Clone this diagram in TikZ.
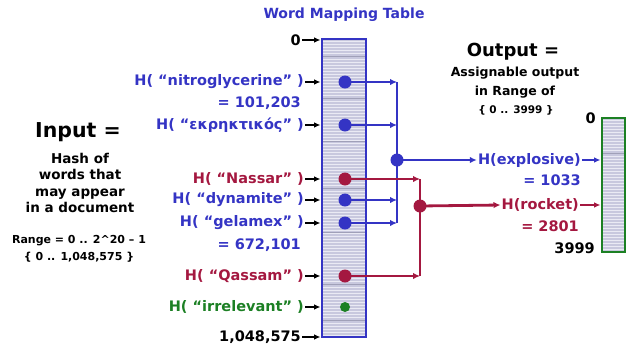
\documentclass[tikz,border=0pt]{standalone}
\usepackage{fontspec}
\setmainfont{DejaVu Sans}
\usetikzlibrary{arrows.meta}
\definecolor{tblue}{RGB}{52,52,196}
\definecolor{tred}{RGB}{164,24,64}
\definecolor{tgreen}{RGB}{28,128,36}
\definecolor{tfill}{RGB}{200,200,222}
\definecolor{tstripe}{RGB}{234,234,244}
\definecolor{tdark}{RGB}{160,160,184}
\begin{document}
\begin{tikzpicture}[x=1pt,y=-1pt,
  lbl/.style={font=\fontsize{14.5}{16}\selectfont\bfseries, inner sep=1pt},
  blk/.style={font=\fontsize{13.5}{16.5}\selectfont\bfseries, inner sep=0pt, align=center},
  pin/.style={black, line width=1.9pt, -{Latex[length=6.5pt,width=5.5pt]}},
  conn/.style={line width=2.8pt, -{Latex[length=7pt,width=6.5pt]}},
  wire/.style={line width=2.8pt},
  dot/.style={circle, inner sep=0pt, minimum size=13pt},
  tablebox/.style={line width=2.8pt, inner sep=0pt}]
\useasboundingbox (0,0) rectangle (629,346);

% ---- main table ----
\fill[tfill] (322,39) rectangle (366,337);
\foreach \yy in {41.5,44.5,...,336} \draw[tstripe, line width=0.9pt] (323,\yy) -- (365,\yy);
\foreach \yy in {56,98,141,188,232,284,320} \draw[tdark, line width=0.7pt] (323,\yy) -- (365,\yy);
\node[tablebox, draw=tblue, minimum width=44pt, minimum height=298pt] (tbl) at (344,188) {};

\node[font=\fontsize{14}{16}\selectfont\bfseries, text=tblue] (title) at (344,15) {Word Mapping Table};

% ---- output table ----
\fill[tfill] (602,118) rectangle (625,252);
\foreach \yy in {120.5,123.5,...,251} \draw[tstripe, line width=0.9pt] (603,\yy) -- (624,\yy);
\draw[tdark, line width=0.7pt] (603,153) -- (624,153);
\node[tablebox, draw=tgreen, minimum width=23pt, minimum height=134pt] (otbl) at (613.5,185) {};

% ---- input side labels ----
\node[lbl, anchor=east] (zero) at (302,40) {0};
\node[lbl, text=tblue, anchor=east] (nitro) at (305,82) {H( “nitroglycerine” )};
\node[lbl, text=tblue, anchor=east] (nitrov) at (302,103) {= 101,203};
\node[lbl, text=tblue, anchor=east] (greek) at (305,125) {H( “εκρηκτικός” )};
\node[lbl, text=tred, anchor=east] (nassar) at (305,179) {H( “Nassar” )};
\node[lbl, text=tblue, anchor=east] (dyn) at (305,200) {H( “dynamite” )};
\node[lbl, text=tblue, anchor=east] (gel) at (305,223) {H( “gelamex” )};
\node[lbl, text=tblue, anchor=east] (gelv) at (302,245) {= 672,101};
\node[lbl, text=tred, anchor=east] (qassam) at (305,276) {H( “Qassam” )};
\node[lbl, text=tgreen, anchor=east] (irr) at (305,307) {H( “irrelevant” )};
\node[lbl, anchor=east] (last) at (302,337) {1,048,575};

\foreach \n in {zero,nitro,greek,nassar,dyn,gel,qassam,irr,last}
  \draw[pin] (\n.east) -- (\n.east -| tbl.west);

% ---- dots in the table ----
\node[dot, fill=tblue] (dn) at (345,82) {};
\node[dot, fill=tblue] (dg) at (345,125) {};
\node[dot, fill=tred] (dna) at (345,179) {};
\node[dot, fill=tblue] (dd) at (345,200) {};
\node[dot, fill=tblue] (dge) at (345,223) {};
\node[dot, fill=tred] (dq) at (345,276) {};
\node[dot, fill=tgreen, minimum size=10pt] (di) at (345,307) {};

% ---- junctions ----
\coordinate (bj) at (397,160);
\coordinate (rj) at (420,206);
\coordinate (btop) at (dn -| bj);
\coordinate (bbot) at (dge -| bj);
\coordinate (rtop) at (dna -| rj);
\coordinate (rbot) at (dq -| rj);

% blue wiring
\draw[wire, tblue] (btop) -- (bbot);
\foreach \d in {dn,dg,dd,dge} \draw[conn, tblue] (\d.center) -- (\d -| bj);
% red wiring
\draw[wire, tred] (rtop) -- (rbot);
\foreach \d in {dna,dq} \draw[conn, tred] (\d.center) -- (\d -| rj);

% ---- outputs ----
\node[lbl, text=tblue, anchor=east] (expl) at (582,160) {H(explosive)};
\node[lbl, text=tblue, anchor=east] (explv) at (582,180) {= 1033};
\node[lbl, text=tred, anchor=east] (rock) at (580,205) {H(rocket)};
\node[lbl, text=tred, anchor=east] (rockv) at (580,226) {= 2801};
\node[lbl, anchor=east] (ozero) at (597,118) {0};
\node[lbl, anchor=east] (o3999) at (596,248) {3999};

\draw[conn, tblue] (bj) -- (expl.west);
\draw[conn, tred] (rj) -- (rock.west);
\draw[pin, tblue] (expl.east) -- (expl.east -| otbl.west);
\draw[pin, tred] (rock.east) -- (rock.east -| otbl.west);
\node[dot, fill=tblue] (bjd) at (bj) {};
\node[dot, fill=tred] (rjd) at (rj) {};

% ---- side texts ----
\node[font=\fontsize{20.5}{22}\selectfont\bfseries, inner sep=0pt] (inp) at (78,132) {Input =};
\node[blk] (inpd) at (80,183) {Hash of\\words that\\may appear\\in a document};
\node[blk, font=\fontsize{11}{17}\selectfont\bfseries] (rng) at (79,248.5) {Range = 0 .. 2\^{}20 – 1\\\{ 0 .. 1,048,575 \}};

\node[font=\fontsize{18}{20}\selectfont\bfseries, inner sep=0pt] (outp) at (513,52) {Output =};
\node[blk, font=\fontsize{12.5}{19}\selectfont\bfseries] (outd) at (515,82.5) {Assignable output\\in Range of};
\node[blk, font=\fontsize{10.5}{12}\selectfont\bfseries] (orng) at (516,110) {\{ 0 .. 3999 \}};
\end{tikzpicture}
\end{document}
